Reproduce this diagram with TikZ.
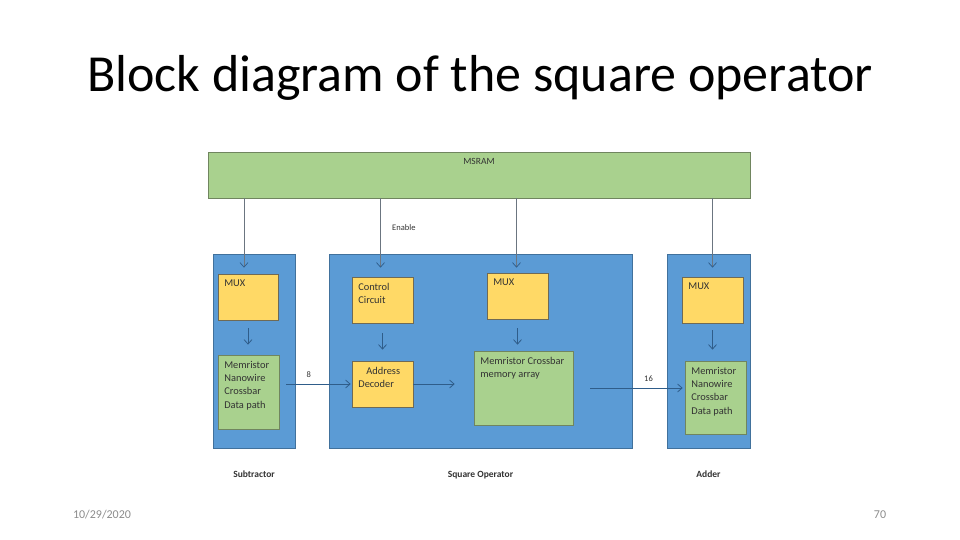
\documentclass[tikz,border=0pt]{standalone}
\usepackage{fontspec}
\setmainfont{Carlito}
\usetikzlibrary{arrows.meta,positioning}
\definecolor{unitblue}{HTML}{5B9BD5}
\definecolor{unitborder}{HTML}{41719C}
\definecolor{ramgreen}{HTML}{A9D18E}
\definecolor{ramborder}{HTML}{70855F}
\definecolor{muxyellow}{HTML}{FFD966}
\definecolor{muxborder}{HTML}{6F6A55}
\definecolor{linegray}{HTML}{6B7580}
\definecolor{arrowblue}{HTML}{2F5D8A}
\definecolor{darktext}{HTML}{333333}
\definecolor{footgray}{HTML}{8C8C8C}

\begin{document}
\begin{tikzpicture}[
    x=1pt, y=-1pt,
    unit/.style={
        draw=unitborder,
        fill=unitblue,
        inner sep=0pt,
        line width=0.7pt
    },
    ram/.style={
        draw=ramborder,
        fill=ramgreen,
        inner sep=0pt,
        line width=0.7pt
    },
    muxbox/.style={
        draw=muxborder,
        fill=muxyellow,
        inner sep=0pt,
        line width=0.7pt
    },
    boxtext/.style={
        anchor=north west,
        align=left,
        inner xsep=6.5pt,
        inner ysep=6pt,
        text=darktext,
        font=\fontsize{10.4}{13.4}\selectfont
    },
    caption/.style={font=\bfseries\fontsize{9.5}{11}\selectfont, text=darktext},
    small/.style={font=\fontsize{8.5}{10}\selectfont, text=darktext},
    feed/.style={-{Straight Barb[length=4.5pt, width=8pt, color=arrowblue]}, draw=linegray, line width=0.7pt},
    flow/.style={-{Straight Barb[length=4.5pt, width=8pt]}, draw=arrowblue, line width=0.8pt}
]
    \useasboundingbox (0,0) rectangle (960,540);

    \node[font=\fontsize{52}{62}\selectfont] (title) at (480,78)
        {Block diagram of the square operator};

    \node[ram, minimum width=542, minimum height=46,
        label={[anchor=north, yshift=-3pt, small, font=\fontsize{9.5}{11}\selectfont]north:MSRAM}]
        (msram) at (479,175) {};

    \node[unit, minimum width=82, minimum height=194] (sub) at (254,351) {};
    \node[unit, minimum width=303, minimum height=194] (square) at (480.5,351) {};
    \node[unit, minimum width=83, minimum height=194] (adder) at (708.5,351) {};

    \node[muxbox, minimum width=60, minimum height=46,
        label={[boxtext]north west:MUX}] (submux) at (248,297) {};
    \node[ram, minimum width=61, minimum height=74,
        label={[boxtext]north west:Memristor\\Nanowire\\Crossbar\\Data path}]
        (submem) at (248.5,392) {};

    \node[muxbox, minimum width=61, minimum height=46,
        label={[boxtext]north west:Control\\Circuit}] (control) at (382.5,300) {};
    \node[muxbox, minimum width=61, minimum height=46,
        label={[boxtext]north west:\hspace*{8pt}Address\\Decoder}] (decoder) at (382.5,384) {};
    \node[muxbox, minimum width=61, minimum height=46,
        label={[boxtext]north west:MUX}] (sqmux) at (517.5,296) {};
    \node[ram, minimum width=99, minimum height=74,
        label={[boxtext]north west:Memristor Crossbar\\memory array}]
        (crossbar) at (523.5,388) {};

    \node[muxbox, minimum width=61, minimum height=46,
        label={[boxtext]north west:MUX}] (addmux) at (712.5,300) {};
    \node[ram, minimum width=61, minimum height=73,
        label={[boxtext]north west:Memristor\\Nanowire\\Crossbar\\Data path}]
        (addmem) at (715.5,397.5) {};

    \node[caption, below=19pt of sub] (subname) {Subtractor};
    \node[caption, below=19pt of square] (squarename) {Square Operator};
    \node[caption, below=19pt of adder] (addername) {Adder};

    \node[font=\fontsize{12}{14}\selectfont, text=footgray] (date) at (102,515) {10/29/2020};
    \node[font=\fontsize{12}{14}\selectfont, text=footgray] (page) at (880,515) {70};

    \draw[feed] ([xshift=-4pt]submux.north |- msram.south) -- ([xshift=-4pt, yshift=6pt]submux.north);
    \draw[feed] ([xshift=-2pt]control.north |- msram.south) -- node[small, right=8pt, pos=0.42] (enable) {Enable}
        ([xshift=-2pt, yshift=9pt]control.north);
    \draw[feed] ([xshift=-1pt]sqmux.north |- msram.south) -- ([xshift=-1pt, yshift=5pt]sqmux.north);
    \draw[feed] (addmux.north |- msram.south) -- ([yshift=9pt]addmux.north);

    \draw[flow] ([yshift=-8pt]submux.south) -- ([yshift=10pt]submux.south |- submem.north);
    \draw[flow] ([yshift=-10pt]control.south) -- ([yshift=11pt]control.south |- decoder.north);
    \draw[flow] ([yshift=-9pt]sqmux.south) -- ([yshift=6pt]sqmux.south |- crossbar.north);
    \draw[flow] ([yshift=-7pt]addmux.south) -- ([yshift=11pt]addmux.south |- addmem.north);

    \draw[flow] ([xshift=7pt]submem.east |- decoder.west) -- node[small, above=3pt, pos=0.35] (bus8) {8}
        ([xshift=-1pt]decoder.west);
    \draw[flow] (decoder.east) -- ([xshift=-19pt]crossbar.west |- decoder.east);
    \draw[flow] ([xshift=17pt]crossbar.east) -- node[small, above=3pt, pos=0.63] (bus16) {16}
        ([xshift=-2pt]addmem.west |- crossbar.east);
\end{tikzpicture}
\end{document}
